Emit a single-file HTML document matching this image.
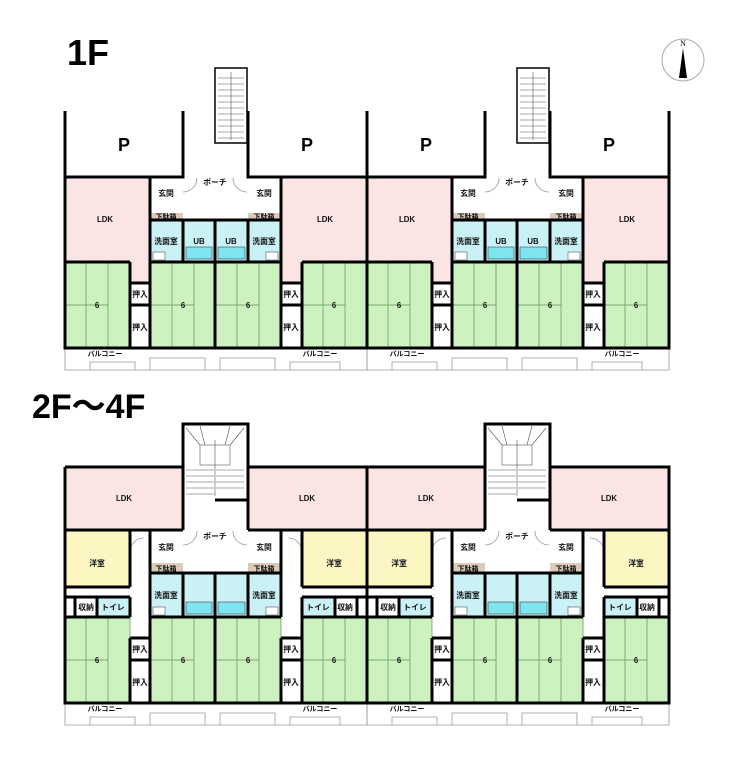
<!DOCTYPE html>
<html><head><meta charset="utf-8"><style>
html,body{margin:0;padding:0;background:#fff;}
svg{display:block;}
text{font-family:"Liberation Sans","Noto Sans CJK JP",sans-serif;}
.l{font-size:7.8px;font-weight:bold;text-anchor:middle;fill:#111;}
.w{stroke:#000;stroke-width:3;fill:none;}
.g{stroke:#999;stroke-width:0.8;fill:none;}
.tat{fill:#cdf2bf;stroke:#5f9058;stroke-width:0.7;}
</style></head><body>
<svg width="740" height="760" viewBox="0 0 740 760" xmlns="http://www.w3.org/2000/svg">
<text x="67" y="65" style="font-size:36px;font-weight:bold">1F</text>
<text x="32" y="418" style="font-size:34px;font-weight:bold">2F～4F</text>
<circle cx="683" cy="60" r="21" fill="#fff" stroke="#aaa" stroke-width="1"/>
<text x="683" y="46" style="font-size:8px;text-anchor:middle;font-family:'Liberation Serif',serif">N</text>
<polygon points="683,48 679,78 687,78" fill="#000"/>

<g id="half">
<rect x="65" y="111" width="118" height="66" fill="#fff"/>
<rect x="248" y="111" width="119" height="66" fill="#fff"/>
<text x="124" y="151" style="font-size:18px;font-weight:bold;text-anchor:middle">P</text>
<text x="307" y="151" style="font-size:18px;font-weight:bold;text-anchor:middle">P</text>
<rect x="215" y="68" width="32" height="75" fill="#fff" stroke="#000" stroke-width="1.5"/>
<g stroke="#555" stroke-width="0.6">
<line x1="218" y1="78" x2="244" y2="78"/><line x1="218" y1="84" x2="244" y2="84"/><line x1="218" y1="90" x2="244" y2="90"/><line x1="218" y1="96" x2="244" y2="96"/><line x1="218" y1="102" x2="244" y2="102"/><line x1="218" y1="108" x2="244" y2="108"/><line x1="218" y1="114" x2="244" y2="114"/><line x1="218" y1="120" x2="244" y2="120"/><line x1="218" y1="126" x2="244" y2="126"/><line x1="218" y1="132" x2="244" y2="132"/><line x1="218" y1="138" x2="244" y2="138"/>
<line x1="231" y1="72" x2="231" y2="140"/></g>
<polygon points="65,177 150,177 150,283 130,283 130,262 65,262" fill="#fbe4e4"/>
<polygon points="281,177 367,177 367,262 302,262 302,283 281,283" fill="#fbe4e4"/>
<text x="105" y="222" class="l">LDK</text><text x="325" y="222" class="l">LDK</text>
<rect x="150" y="177" width="33" height="36" fill="#fff"/>
<rect x="248" y="177" width="33" height="36" fill="#fff"/>
<rect x="150" y="213" width="33" height="7" fill="#dccbb8"/>
<rect x="248" y="213" width="33" height="7" fill="#dccbb8"/>
<text x="166" y="196" class="l">玄関</text><text x="264" y="196" class="l">玄関</text>
<text x="166" y="219" class="l" style="font-size:7px">下駄箱</text><text x="264" y="219" class="l" style="font-size:7px">下駄箱</text>
<text x="215" y="185" class="l">ポーチ</text>
<path d="M183,192 A14,14 0 0 0 197,178 M247,192 A14,14 0 0 1 233,178" class="g"/>
<rect x="150" y="220" width="131" height="42" fill="#c9f1f6"/>
<rect x="186" y="247" width="26" height="12" fill="#7ee4f0" stroke="#444" stroke-width="0.6"/>
<rect x="218" y="247" width="27" height="12" fill="#7ee4f0" stroke="#444" stroke-width="0.6"/>
<rect x="153" y="252" width="12" height="8" fill="#fff" stroke="#555" stroke-width="0.6"/>
<rect x="266" y="252" width="12" height="8" fill="#fff" stroke="#555" stroke-width="0.6"/>
<text x="166" y="244" class="l">洗面室</text><text x="199" y="244" class="l">UB</text>
<text x="231" y="244" class="l">UB</text><text x="264" y="244" class="l">洗面室</text>
<g class="tat">
<rect x="65" y="262" width="65" height="86"/><rect x="150" y="262" width="65" height="86"/>
<rect x="215" y="262" width="66" height="86"/><rect x="302" y="262" width="65" height="86"/></g>
<g stroke="#5f9058" stroke-width="0.7">
<line x1="86" y1="262" x2="86" y2="348"/><line x1="108" y1="262" x2="108" y2="348"/><line x1="65" y1="305" x2="108" y2="305"/>
<line x1="172" y1="262" x2="172" y2="348"/><line x1="194" y1="262" x2="194" y2="348"/><line x1="150" y1="305" x2="194" y2="305"/>
<line x1="237" y1="262" x2="237" y2="348"/><line x1="259" y1="262" x2="259" y2="348"/><line x1="215" y1="305" x2="259" y2="305"/>
<line x1="323" y1="262" x2="323" y2="348"/><line x1="345" y1="262" x2="345" y2="348"/><line x1="302" y1="305" x2="345" y2="305"/></g>
<text x="97" y="308" class="l">6</text><text x="183" y="308" class="l">6</text><text x="248" y="308" class="l">6</text><text x="334" y="308" class="l">6</text>
<rect x="130" y="283" width="20" height="22" fill="#fff"/><rect x="130" y="305" width="20" height="43" fill="#fff"/>
<rect x="281" y="283" width="21" height="22" fill="#fff"/><rect x="281" y="305" width="21" height="43" fill="#fff"/>
<text x="140" y="297" class="l">押入</text><text x="140" y="330" class="l">押入</text>
<text x="291" y="297" class="l">押入</text><text x="291" y="330" class="l">押入</text>
<path d="M65,348 V370 H367 V348 M90,370 V362 H135 V370 M150,370 V358 H205 V370 M220,370 V358 H275 V370 M290,370 V362 H340 V370" class="g"/>
<text x="105" y="356" class="l" style="font-size:7px">バルコニー</text><text x="320" y="356" class="l" style="font-size:7px">バルコニー</text>
<path class="w" d="M65,111 V348 H367 V111 M183,111 V177 H65 M248,111 V177 H367 M150,177 V220 H281 V177 M150,220 V262 H281 V220 M215,220 V348 M183,220 V262 M248,220 V262 M130,262 V348 M150,262 V348 M281,262 V348 M302,262 V348 M65,262 H130 M150,262 H215 M215,262 H281 M302,262 H367 M130,283 H150 M130,305 H150 M281,283 H302 M281,305 H302"/>

<rect x="183" y="424" width="64" height="76" fill="#fff"/>
<g stroke="#555" stroke-width="0.6">
<line x1="186" y1="470" x2="214" y2="470"/><line x1="186" y1="476" x2="214" y2="476"/><line x1="186" y1="482" x2="214" y2="482"/><line x1="186" y1="488" x2="214" y2="488"/><line x1="186" y1="494" x2="214" y2="494"/>
<line x1="216" y1="470" x2="244" y2="470"/><line x1="216" y1="476" x2="244" y2="476"/><line x1="216" y1="482" x2="244" y2="482"/><line x1="216" y1="488" x2="244" y2="488"/>
<line x1="186" y1="428" x2="200" y2="445"/><line x1="200" y1="426" x2="205" y2="445"/><line x1="244" y1="428" x2="230" y2="445"/><line x1="230" y1="426" x2="225" y2="445"/>
<rect x="200" y="445" width="30" height="20" fill="none"/><line x1="215" y1="440" x2="215" y2="496"/></g>
<polygon points="65,467 183,467 183,530 65,530" fill="#fbe4e4"/>
<polygon points="248,467 367,467 367,530 248,530" fill="#fbe4e4"/>
<text x="124" y="501" class="l">LDK</text><text x="307" y="501" class="l">LDK</text>
<rect x="65" y="530" width="65" height="57" fill="#fbf6c2"/>
<rect x="302" y="530" width="65" height="57" fill="#fbf6c2"/>
<text x="97" y="566" class="l">洋室</text><text x="334" y="566" class="l">洋室</text>
<rect x="97" y="597" width="33" height="20" fill="#c9f1f6"/><rect x="302" y="597" width="33" height="20" fill="#c9f1f6"/>
<text x="86" y="610" class="l">収納</text><text x="113" y="610" class="l">トイレ</text>
<text x="318" y="610" class="l">トイレ</text><text x="345" y="610" class="l">収納</text>
<text x="166" y="550" class="l">玄関</text><text x="264" y="550" class="l">玄関</text>
<rect x="150" y="563" width="33" height="10" fill="#dccbb8"/><rect x="248" y="563" width="33" height="10" fill="#dccbb8"/>
<text x="166" y="571" class="l" style="font-size:7px">下駄箱</text><text x="264" y="571" class="l" style="font-size:7px">下駄箱</text>
<text x="215" y="539" class="l">ポーチ</text>
<path d="M183,545 A14,14 0 0 0 197,531 M247,545 A14,14 0 0 1 233,531 M130,552 A14,14 0 0 1 144,538 M302,552 A14,14 0 0 0 288,538" class="g"/>
<rect x="150" y="573" width="131" height="44" fill="#c9f1f6"/>
<rect x="186" y="602" width="26" height="12" fill="#7ee4f0" stroke="#444" stroke-width="0.6"/>
<rect x="218" y="602" width="27" height="12" fill="#7ee4f0" stroke="#444" stroke-width="0.6"/>
<rect x="153" y="607" width="12" height="8" fill="#fff" stroke="#555" stroke-width="0.6"/>
<rect x="266" y="607" width="12" height="8" fill="#fff" stroke="#555" stroke-width="0.6"/>
<text x="166" y="598" class="l">洗面室</text><text x="264" y="598" class="l">洗面室</text>
<g class="tat">
<rect x="65" y="617" width="65" height="86"/><rect x="150" y="617" width="65" height="86"/>
<rect x="215" y="617" width="66" height="86"/><rect x="302" y="617" width="65" height="86"/></g>
<g stroke="#5f9058" stroke-width="0.7">
<line x1="86" y1="617" x2="86" y2="703"/><line x1="108" y1="617" x2="108" y2="703"/><line x1="65" y1="660" x2="108" y2="660"/>
<line x1="172" y1="617" x2="172" y2="703"/><line x1="194" y1="617" x2="194" y2="703"/><line x1="150" y1="660" x2="194" y2="660"/>
<line x1="237" y1="617" x2="237" y2="703"/><line x1="259" y1="617" x2="259" y2="703"/><line x1="215" y1="660" x2="259" y2="660"/>
<line x1="323" y1="617" x2="323" y2="703"/><line x1="345" y1="617" x2="345" y2="703"/><line x1="302" y1="660" x2="345" y2="660"/></g>
<text x="97" y="663" class="l">6</text><text x="183" y="663" class="l">6</text><text x="248" y="663" class="l">6</text><text x="334" y="663" class="l">6</text>
<rect x="130" y="638" width="20" height="22" fill="#fff"/><rect x="130" y="660" width="20" height="43" fill="#fff"/>
<rect x="281" y="638" width="21" height="22" fill="#fff"/><rect x="281" y="660" width="21" height="43" fill="#fff"/>
<text x="140" y="652" class="l">押入</text><text x="140" y="685" class="l">押入</text>
<text x="291" y="652" class="l">押入</text><text x="291" y="685" class="l">押入</text>
<path d="M65,703 V725 H367 V703 M90,725 V717 H135 V725 M150,725 V713 H205 V725 M220,725 V713 H275 V725 M290,725 V717 H340 V725" class="g"/>
<text x="105" y="711" class="l" style="font-size:7px">バルコニー</text><text x="320" y="711" class="l" style="font-size:7px">バルコニー</text>
<path class="w" d="M65,467 V703 H367 V467 H248 V424 H183 V467 H65 M183,467 V530 M248,467 V530 M215,500 H247 M65,530 H183 M248,530 H367 M130,530 V587 M302,530 V587 M65,587 H130 M302,587 H367 M65,597 H130 M302,597 H367 M75,597 V617 M97,597 V617 M130,597 V617 M302,597 V617 M335,597 V617 M357,597 V617 M150,530 V573 H281 V530 M150,573 V617 M183,573 V617 M215,573 V703 M248,573 V617 M281,573 V617 M65,617 H130 M150,617 H281 M302,617 H367 M130,638 V703 M150,617 V703 M281,638 V703 M302,617 V703 M130,638 H150 M130,660 H150 M281,638 H302 M281,660 H302"/>
</g>

<g transform="translate(302,0)">
<rect x="65" y="111" width="118" height="66" fill="#fff"/>
<rect x="248" y="111" width="119" height="66" fill="#fff"/>
<text x="124" y="151" style="font-size:18px;font-weight:bold;text-anchor:middle">P</text>
<text x="307" y="151" style="font-size:18px;font-weight:bold;text-anchor:middle">P</text>
<rect x="215" y="68" width="32" height="75" fill="#fff" stroke="#000" stroke-width="1.5"/>
<g stroke="#555" stroke-width="0.6">
<line x1="218" y1="78" x2="244" y2="78"/><line x1="218" y1="84" x2="244" y2="84"/><line x1="218" y1="90" x2="244" y2="90"/><line x1="218" y1="96" x2="244" y2="96"/><line x1="218" y1="102" x2="244" y2="102"/><line x1="218" y1="108" x2="244" y2="108"/><line x1="218" y1="114" x2="244" y2="114"/><line x1="218" y1="120" x2="244" y2="120"/><line x1="218" y1="126" x2="244" y2="126"/><line x1="218" y1="132" x2="244" y2="132"/><line x1="218" y1="138" x2="244" y2="138"/>
<line x1="231" y1="72" x2="231" y2="140"/></g>
<polygon points="65,177 150,177 150,283 130,283 130,262 65,262" fill="#fbe4e4"/>
<polygon points="281,177 367,177 367,262 302,262 302,283 281,283" fill="#fbe4e4"/>
<text x="105" y="222" class="l">LDK</text><text x="325" y="222" class="l">LDK</text>
<rect x="150" y="177" width="33" height="36" fill="#fff"/>
<rect x="248" y="177" width="33" height="36" fill="#fff"/>
<rect x="150" y="213" width="33" height="7" fill="#dccbb8"/>
<rect x="248" y="213" width="33" height="7" fill="#dccbb8"/>
<text x="166" y="196" class="l">玄関</text><text x="264" y="196" class="l">玄関</text>
<text x="166" y="219" class="l" style="font-size:7px">下駄箱</text><text x="264" y="219" class="l" style="font-size:7px">下駄箱</text>
<text x="215" y="185" class="l">ポーチ</text>
<path d="M183,192 A14,14 0 0 0 197,178 M247,192 A14,14 0 0 1 233,178" class="g"/>
<rect x="150" y="220" width="131" height="42" fill="#c9f1f6"/>
<rect x="186" y="247" width="26" height="12" fill="#7ee4f0" stroke="#444" stroke-width="0.6"/>
<rect x="218" y="247" width="27" height="12" fill="#7ee4f0" stroke="#444" stroke-width="0.6"/>
<rect x="153" y="252" width="12" height="8" fill="#fff" stroke="#555" stroke-width="0.6"/>
<rect x="266" y="252" width="12" height="8" fill="#fff" stroke="#555" stroke-width="0.6"/>
<text x="166" y="244" class="l">洗面室</text><text x="199" y="244" class="l">UB</text>
<text x="231" y="244" class="l">UB</text><text x="264" y="244" class="l">洗面室</text>
<g class="tat">
<rect x="65" y="262" width="65" height="86"/><rect x="150" y="262" width="65" height="86"/>
<rect x="215" y="262" width="66" height="86"/><rect x="302" y="262" width="65" height="86"/></g>
<g stroke="#5f9058" stroke-width="0.7">
<line x1="86" y1="262" x2="86" y2="348"/><line x1="108" y1="262" x2="108" y2="348"/><line x1="65" y1="305" x2="108" y2="305"/>
<line x1="172" y1="262" x2="172" y2="348"/><line x1="194" y1="262" x2="194" y2="348"/><line x1="150" y1="305" x2="194" y2="305"/>
<line x1="237" y1="262" x2="237" y2="348"/><line x1="259" y1="262" x2="259" y2="348"/><line x1="215" y1="305" x2="259" y2="305"/>
<line x1="323" y1="262" x2="323" y2="348"/><line x1="345" y1="262" x2="345" y2="348"/><line x1="302" y1="305" x2="345" y2="305"/></g>
<text x="97" y="308" class="l">6</text><text x="183" y="308" class="l">6</text><text x="248" y="308" class="l">6</text><text x="334" y="308" class="l">6</text>
<rect x="130" y="283" width="20" height="22" fill="#fff"/><rect x="130" y="305" width="20" height="43" fill="#fff"/>
<rect x="281" y="283" width="21" height="22" fill="#fff"/><rect x="281" y="305" width="21" height="43" fill="#fff"/>
<text x="140" y="297" class="l">押入</text><text x="140" y="330" class="l">押入</text>
<text x="291" y="297" class="l">押入</text><text x="291" y="330" class="l">押入</text>
<path d="M65,348 V370 H367 V348 M90,370 V362 H135 V370 M150,370 V358 H205 V370 M220,370 V358 H275 V370 M290,370 V362 H340 V370" class="g"/>
<text x="105" y="356" class="l" style="font-size:7px">バルコニー</text><text x="320" y="356" class="l" style="font-size:7px">バルコニー</text>
<path class="w" d="M65,111 V348 H367 V111 M183,111 V177 H65 M248,111 V177 H367 M150,177 V220 H281 V177 M150,220 V262 H281 V220 M215,220 V348 M183,220 V262 M248,220 V262 M130,262 V348 M150,262 V348 M281,262 V348 M302,262 V348 M65,262 H130 M150,262 H215 M215,262 H281 M302,262 H367 M130,283 H150 M130,305 H150 M281,283 H302 M281,305 H302"/>
<rect x="183" y="424" width="64" height="76" fill="#fff"/>
<g stroke="#555" stroke-width="0.6">
<line x1="186" y1="470" x2="214" y2="470"/><line x1="186" y1="476" x2="214" y2="476"/><line x1="186" y1="482" x2="214" y2="482"/><line x1="186" y1="488" x2="214" y2="488"/><line x1="186" y1="494" x2="214" y2="494"/>
<line x1="216" y1="470" x2="244" y2="470"/><line x1="216" y1="476" x2="244" y2="476"/><line x1="216" y1="482" x2="244" y2="482"/><line x1="216" y1="488" x2="244" y2="488"/>
<line x1="186" y1="428" x2="200" y2="445"/><line x1="200" y1="426" x2="205" y2="445"/><line x1="244" y1="428" x2="230" y2="445"/><line x1="230" y1="426" x2="225" y2="445"/>
<rect x="200" y="445" width="30" height="20" fill="none"/><line x1="215" y1="440" x2="215" y2="496"/></g>
<polygon points="65,467 183,467 183,530 65,530" fill="#fbe4e4"/>
<polygon points="248,467 367,467 367,530 248,530" fill="#fbe4e4"/>
<text x="124" y="501" class="l">LDK</text><text x="307" y="501" class="l">LDK</text>
<rect x="65" y="530" width="65" height="57" fill="#fbf6c2"/>
<rect x="302" y="530" width="65" height="57" fill="#fbf6c2"/>
<text x="97" y="566" class="l">洋室</text><text x="334" y="566" class="l">洋室</text>
<rect x="97" y="597" width="33" height="20" fill="#c9f1f6"/><rect x="302" y="597" width="33" height="20" fill="#c9f1f6"/>
<text x="86" y="610" class="l">収納</text><text x="113" y="610" class="l">トイレ</text>
<text x="318" y="610" class="l">トイレ</text><text x="345" y="610" class="l">収納</text>
<text x="166" y="550" class="l">玄関</text><text x="264" y="550" class="l">玄関</text>
<rect x="150" y="563" width="33" height="10" fill="#dccbb8"/><rect x="248" y="563" width="33" height="10" fill="#dccbb8"/>
<text x="166" y="571" class="l" style="font-size:7px">下駄箱</text><text x="264" y="571" class="l" style="font-size:7px">下駄箱</text>
<text x="215" y="539" class="l">ポーチ</text>
<path d="M183,545 A14,14 0 0 0 197,531 M247,545 A14,14 0 0 1 233,531 M130,552 A14,14 0 0 1 144,538 M302,552 A14,14 0 0 0 288,538" class="g"/>
<rect x="150" y="573" width="131" height="44" fill="#c9f1f6"/>
<rect x="186" y="602" width="26" height="12" fill="#7ee4f0" stroke="#444" stroke-width="0.6"/>
<rect x="218" y="602" width="27" height="12" fill="#7ee4f0" stroke="#444" stroke-width="0.6"/>
<rect x="153" y="607" width="12" height="8" fill="#fff" stroke="#555" stroke-width="0.6"/>
<rect x="266" y="607" width="12" height="8" fill="#fff" stroke="#555" stroke-width="0.6"/>
<text x="166" y="598" class="l">洗面室</text><text x="264" y="598" class="l">洗面室</text>
<g class="tat">
<rect x="65" y="617" width="65" height="86"/><rect x="150" y="617" width="65" height="86"/>
<rect x="215" y="617" width="66" height="86"/><rect x="302" y="617" width="65" height="86"/></g>
<g stroke="#5f9058" stroke-width="0.7">
<line x1="86" y1="617" x2="86" y2="703"/><line x1="108" y1="617" x2="108" y2="703"/><line x1="65" y1="660" x2="108" y2="660"/>
<line x1="172" y1="617" x2="172" y2="703"/><line x1="194" y1="617" x2="194" y2="703"/><line x1="150" y1="660" x2="194" y2="660"/>
<line x1="237" y1="617" x2="237" y2="703"/><line x1="259" y1="617" x2="259" y2="703"/><line x1="215" y1="660" x2="259" y2="660"/>
<line x1="323" y1="617" x2="323" y2="703"/><line x1="345" y1="617" x2="345" y2="703"/><line x1="302" y1="660" x2="345" y2="660"/></g>
<text x="97" y="663" class="l">6</text><text x="183" y="663" class="l">6</text><text x="248" y="663" class="l">6</text><text x="334" y="663" class="l">6</text>
<rect x="130" y="638" width="20" height="22" fill="#fff"/><rect x="130" y="660" width="20" height="43" fill="#fff"/>
<rect x="281" y="638" width="21" height="22" fill="#fff"/><rect x="281" y="660" width="21" height="43" fill="#fff"/>
<text x="140" y="652" class="l">押入</text><text x="140" y="685" class="l">押入</text>
<text x="291" y="652" class="l">押入</text><text x="291" y="685" class="l">押入</text>
<path d="M65,703 V725 H367 V703 M90,725 V717 H135 V725 M150,725 V713 H205 V725 M220,725 V713 H275 V725 M290,725 V717 H340 V725" class="g"/>
<text x="105" y="711" class="l" style="font-size:7px">バルコニー</text><text x="320" y="711" class="l" style="font-size:7px">バルコニー</text>
<path class="w" d="M65,467 V703 H367 V467 H248 V424 H183 V467 H65 M183,467 V530 M248,467 V530 M215,500 H247 M65,530 H183 M248,530 H367 M130,530 V587 M302,530 V587 M65,587 H130 M302,587 H367 M65,597 H130 M302,597 H367 M75,597 V617 M97,597 V617 M130,597 V617 M302,597 V617 M335,597 V617 M357,597 V617 M150,530 V573 H281 V530 M150,573 V617 M183,573 V617 M215,573 V703 M248,573 V617 M281,573 V617 M65,617 H130 M150,617 H281 M302,617 H367 M130,638 V703 M150,617 V703 M281,638 V703 M302,617 V703 M130,638 H150 M130,660 H150 M281,638 H302 M281,660 H302"/>
</g>
</svg>
</body></html>
